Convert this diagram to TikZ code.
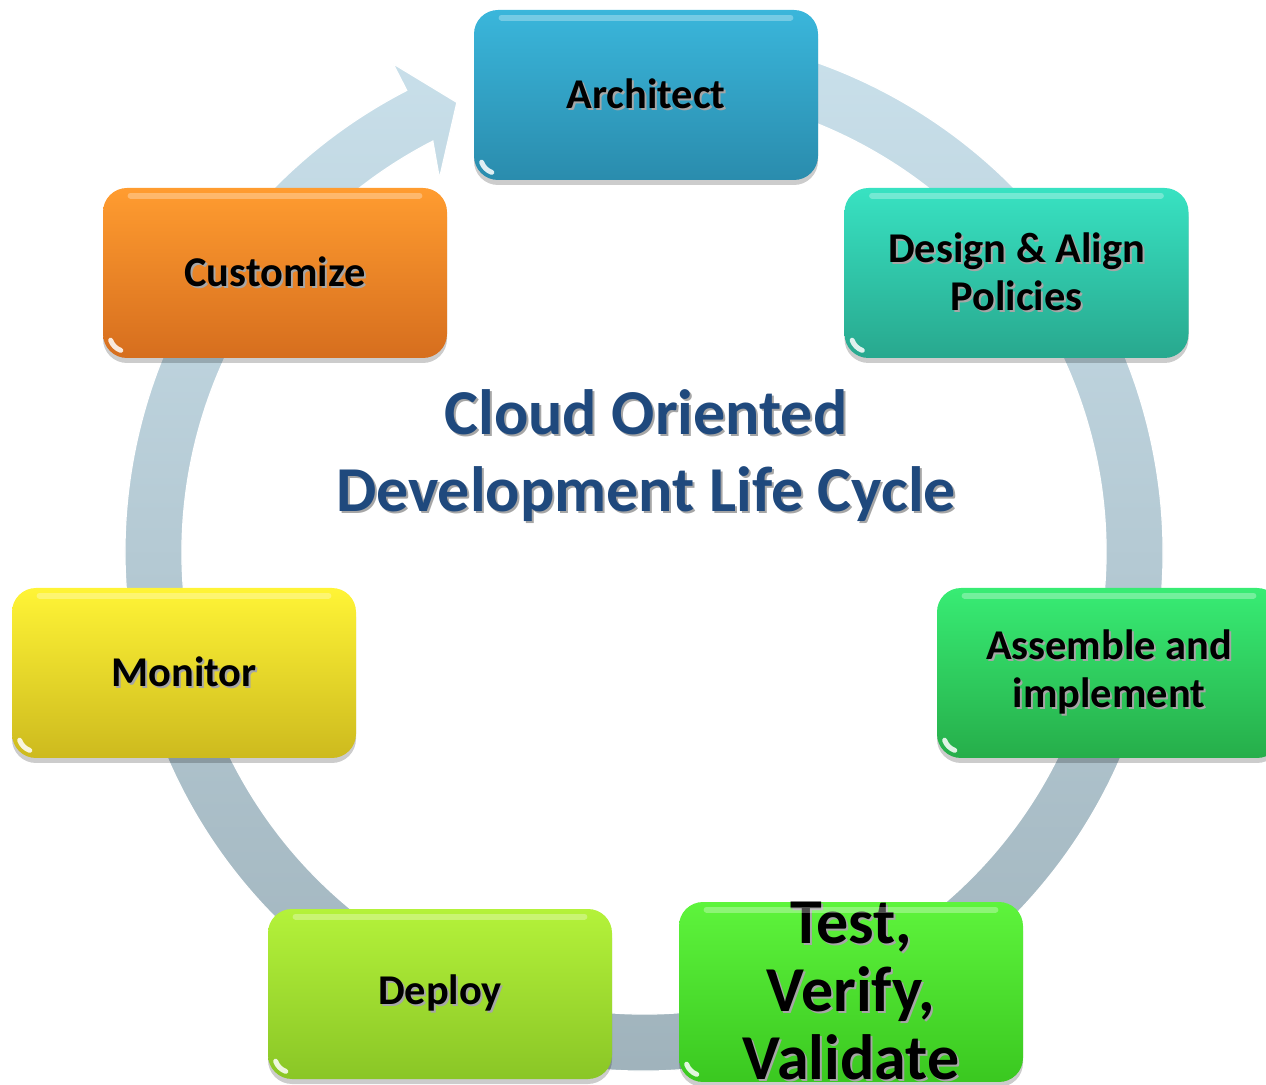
\documentclass[tikz,border=0pt]{standalone}
\usepackage{fontspec}
\setmainfont{Carlito}
\usetikzlibrary{shadows}
\definecolor{ringtop}{HTML}{CBE2ED}
\definecolor{ringbot}{HTML}{9EB1BA}
\definecolor{titleblue}{HTML}{1F497D}
\definecolor{archT}{HTML}{3AB6DB}\definecolor{archB}{HTML}{2A8CAD}
\definecolor{desT}{HTML}{38E2C2}\definecolor{desB}{HTML}{28A88E}
\definecolor{assT}{HTML}{38EC74}\definecolor{assB}{HTML}{26AE4A}
\definecolor{tesT}{HTML}{5EF43C}\definecolor{tesB}{HTML}{3AC820}
\definecolor{depT}{HTML}{B4F23A}\definecolor{depB}{HTML}{8AC626}
\definecolor{monT}{HTML}{FFF436}\definecolor{monB}{HTML}{CDBA1E}
\definecolor{cusT}{HTML}{FF9C30}\definecolor{cusB}{HTML}{D66E1E}
\newcommand{\tsh}[1]{\makebox[0pt][l]{\kern1pt\raisebox{-1pt}{\textcolor{black!35}{#1}}}#1}
\newcommand{\gloss}[1]{%
  \draw[white, opacity=0.3, line width=3pt, line cap=round]
    ([xshift=14pt,yshift=-4pt]#1.north west) -- ([xshift=-14pt,yshift=-4pt]#1.north east);
  \draw[white, opacity=0.85, line width=2.5pt, line cap=round]
    ([shift={(12pt,12pt)}]#1.south west) ++(200:8.5pt) arc[start angle=200, end angle=250, radius=8.5pt];
}
\tikzset{
  stage/.style={rounded corners=12pt, minimum width=172pt, minimum height=85pt,
    inner sep=0pt, align=center, font=\bfseries\fontsize{21.2}{24}\selectfont,
    drop shadow={shadow xshift=0pt, shadow yshift=-2.5pt, opacity=0.2, fill=black}},
  ttl/.style={align=center, text=titleblue, font=\bfseries\fontsize{32}{38.5}\selectfont},
  ring/.style={top color=ringtop, bottom color=ringbot, draw=white, line width=0.6pt}
}
\begin{document}
\begin{tikzpicture}[x=0.5pt, y=0.5pt]
\useasboundingbox (0,0) rectangle (1266,1084);
\clip (0,0) rectangle (1266,1084);
% ring arrow
\begin{scope}[shift={(644,532)}]
\path[ring] (100:259.5pt) arc[start angle=100, end angle=-242.8, radius=259.5pt]
  -- (117.2:274.5pt) -- (112.6:243.5pt) -- (118.7:213pt)
  -- (117.2:231pt) arc[start angle=-242.8, end angle=100, radius=231pt] -- cycle;
\end{scope}
% stages
\node[stage, top color=archT, bottom color=archB] (arch) at (646,989) {\tsh{Architect}};
\node[stage, top color=desT, bottom color=desB] (design) at (1016.5,811) {\tsh{Design \& Align}\\\tsh{Policies}};
\node[stage, top color=assT, bottom color=assB] (assemble) at (1109,411) {\tsh{Assemble and}\\\tsh{implement}};
\node[stage, top color=tesT, bottom color=tesB, font=\bfseries\fontsize{32}{34}\selectfont] (test) at (851,92) {\tsh{Test,}\\\tsh{Verify,}\\\tsh{Validate}};
\node[stage, top color=depT, bottom color=depB] (deploy) at (440,90) {\tsh{Deploy}};
\node[stage, top color=monT, bottom color=monB] (monitor) at (184,411) {\tsh{Monitor}};
\node[stage, top color=cusT, bottom color=cusB] (customize) at (275,811) {\tsh{Customize}};
\gloss{arch}\gloss{design}\gloss{assemble}\gloss{test}\gloss{deploy}\gloss{monitor}\gloss{customize}
% title
\node[ttl] (title) at (646,627) {\tsh{Cloud Oriented}\\\tsh{Development Life Cycle}};
\end{tikzpicture}
\end{document}
